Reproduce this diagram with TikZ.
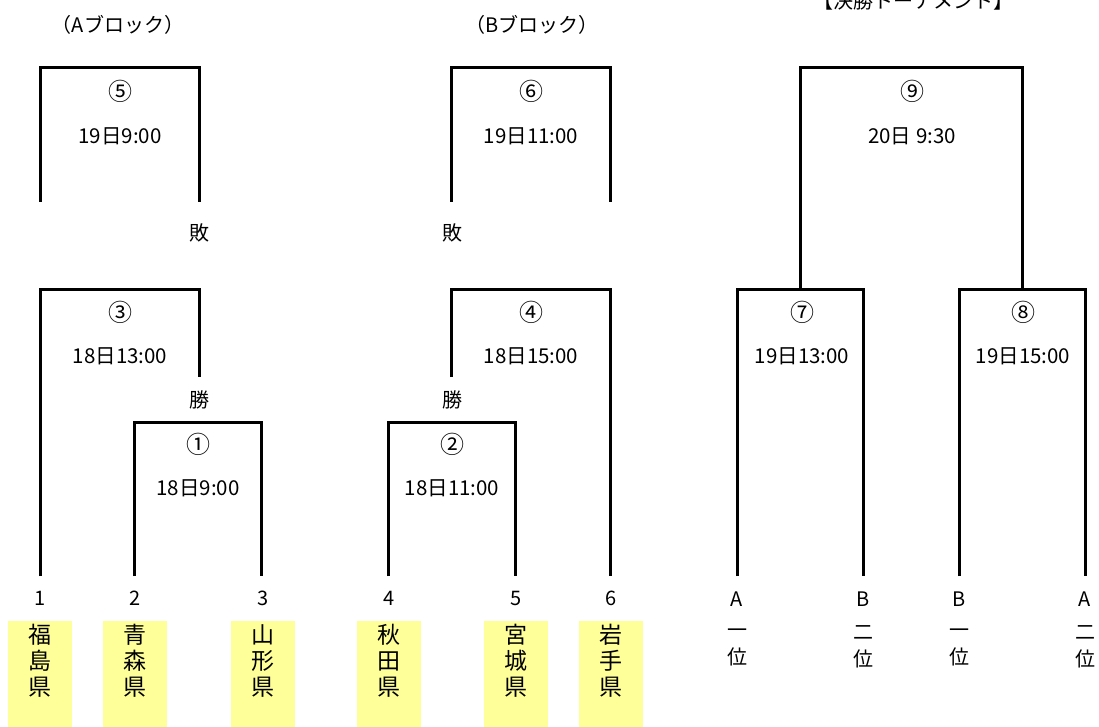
\documentclass[tikz,border=0pt]{standalone}
\usepackage{fontspec}
\setmainfont{Noto Sans CJK JP}
\definecolor{prefyellow}{RGB}{255,255,153}
\begin{document}
\begin{tikzpicture}[x=1pt,y=-1pt,
  bracket/.style={line width=3pt,line join=miter,line cap=butt},
  lbl/.style={inner sep=0pt,font=\fontsize{20}{22}\selectfont},
  num/.style={inner sep=0pt,font=\fontsize{24}{26}\selectfont},
  tm/.style={inner sep=0pt,font=\fontsize{20.5}{22}\selectfont},
  pref/.style={fill=prefyellow,minimum width=64pt,minimum height=106pt,inner sep=0pt,anchor=north,align=center,text depth=0pt},
  preftxt/.style={inner sep=0pt,align=center,font=\fontsize{23}{26}\selectfont},
  rank/.style={inner sep=0pt,align=center,font=\fontsize{20}{27}\selectfont}]
\clip (0,0) rectangle (1099,727);
\useasboundingbox (0,0) rectangle (1099,727);

% titles
\node[lbl,anchor=base] (ttl) at (913,9) {【決勝トーナメント】};
\node[lbl] (blkA) at (118,25) {（Aブロック）};
\node[lbl] (blkB) at (532,25) {（Bブロック）};

% yellow prefecture boxes
\foreach \n/\x/\t in {p1/40/{福\\島\\県}, p2/135/{青\\森\\県}, p3/263/{山\\形\\県},
                      p4/389/{秋\\田\\県}, p5/516/{宮\\城\\県}, p6/611/{岩\\手\\県}}{
  \node[pref] (\n) at (\x,621) {};
  \node[preftxt] (\n t) at (\x,661) {\t};
}

% seed numbers
\node[lbl] (s1) at (40,598) {1};
\node[lbl] (s2) at (135,598) {2};
\node[lbl] (s3) at (263,598) {3};
\node[lbl] (s4) at (389,598) {4};
\node[lbl] (s5) at (516,598) {5};
\node[lbl] (s6) at (611,598) {6};

% final seeds
\node[lbl] (f1) at (737,599) {A};
\node[lbl] (f2) at (863,599) {B};
\node[lbl] (f3) at (959,599) {B};
\node[lbl] (f4) at (1085,599) {A};
\node[rank] (r1) at (737,647) {一\\位};
\node[rank] (r2) at (863,647) {二\\位};
\node[rank] (r3) at (959,647) {一\\位};
\node[rank] (r4) at (1085,647) {二\\位};

% leg end coordinates
\coordinate (a5l) at (40,202);  \coordinate (a5r) at (199,202); \coordinate (a5t) at (120,68);
\coordinate (b6l) at (451,202); \coordinate (b6r) at (610,202); \coordinate (b6t) at (530,68);
\coordinate (a3l) at (40,576);  \coordinate (a3r) at (199,377); \coordinate (a3t) at (120,289);
\coordinate (a1l) at (134,576); \coordinate (a1r) at (261,576); \coordinate (a1t) at (198,422);
\coordinate (b4l) at (451,377); \coordinate (b4r) at (610,576); \coordinate (b4t) at (530,289);
\coordinate (b2l) at (388,576); \coordinate (b2r) at (515,576); \coordinate (b2t) at (452,422);
\coordinate (f7l) at (737,576); \coordinate (f7r) at (863,576); \coordinate (f7t) at (800,289);
\coordinate (f8l) at (959,576); \coordinate (f8r) at (1085,576); \coordinate (f8t) at (1022,289);
\coordinate (f9t) at (911,68);

% brackets
\draw[bracket] (a5l) |- (a5t) -| (a5r);
\draw[bracket] (b6l) |- (b6t) -| (b6r);
\draw[bracket] (a3l) |- (a3t) -| (a3r);
\draw[bracket] (a1l) |- (a1t) -| (a1r);
\draw[bracket] (b4l) |- (b4t) -| (b4r);
\draw[bracket] (b2l) |- (b2t) -| (b2r);
\draw[bracket] (f7l) |- (f7t) -| (f7r);
\draw[bracket] (f8l) |- (f8t) -| (f8r);
\draw[bracket] (f7t) |- (f9t) -| (f8t);

% match labels
\node[num] (m5) at (120,91) {⑤};  \node[tm] (t5) at (120,136) {19日9:00};
\node[num] (m6) at (531,91) {⑥};  \node[tm] (t6) at (531,136) {19日11:00};
\node[num] (m9) at (912,91) {⑨};  \node[tm] (t9) at (912,136) {20日 9:30};
\node[num] (m3) at (120,312) {③}; \node[tm] (t3) at (120,356) {18日13:00};
\node[num] (m4) at (531,312) {④}; \node[tm] (t4) at (531,356) {18日15:00};
\node[num] (m7) at (802,312) {⑦}; \node[tm] (t7) at (802,356) {19日13:00};
\node[num] (m8) at (1023,312) {⑧};\node[tm] (t8) at (1023,356) {19日15:00};
\node[num] (m1) at (198,444) {①}; \node[tm] (t1) at (198,488) {18日9:00};
\node[num] (m2) at (452,444) {②}; \node[tm] (t2) at (452,488) {18日11:00};

% win/lose
\node[lbl] (lA) at (199,233) {敗};
\node[lbl] (lB) at (452,233) {敗};
\node[lbl] (wA) at (199,400) {勝};
\node[lbl] (wB) at (452,400) {勝};
\end{tikzpicture}
\end{document}
